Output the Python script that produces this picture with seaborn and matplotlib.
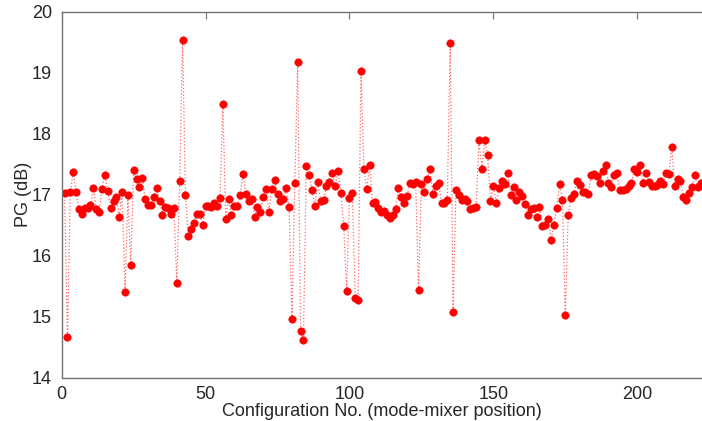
import matplotlib
matplotlib.use("Agg")
import matplotlib.pyplot as plt
import seaborn as sns
import numpy as np
import pandas as pd

config_no = list(range(1, 223))
pg_db = [
    17.03, 14.66, 17.04, 17.38, 17.04, 16.77, 16.69, 16.79, 16.78, 16.83,
    17.11, 16.76, 16.71, 17.10, 17.33, 17.06, 16.79, 16.90, 16.97, 16.63,
    17.04, 15.40, 16.99, 15.84, 17.40, 17.26, 17.13, 17.27, 16.93, 16.84,
    16.84, 16.97, 17.11, 16.89, 16.67, 16.80, 16.79, 16.68, 16.79, 15.55,
    17.23, 19.54, 17.00, 16.33, 16.44, 16.54, 16.69, 16.68, 16.50, 16.82,
    16.81, 16.80, 16.87, 16.82, 16.94, 18.49, 16.61, 16.93, 16.66, 16.81,
    16.81, 16.99, 17.34, 17.01, 16.89, 16.93, 16.64, 16.80, 16.72, 16.96,
    17.09, 16.72, 17.10, 17.25, 17.01, 16.90, 16.93, 17.11, 16.80, 14.97,
    17.20, 19.17, 14.77, 14.61, 17.47, 17.32, 17.07, 16.82, 17.21, 16.90,
    16.91, 17.15, 17.21, 17.36, 17.14, 17.39, 17.03, 16.49, 15.42, 16.95,
    17.03, 15.30, 15.27, 19.03, 17.42, 17.09, 17.48, 16.86, 16.88, 16.78,
    16.72, 16.73, 16.67, 16.62, 16.67, 16.77, 17.11, 16.96, 16.86, 16.98,
    17.19, 17.17, 17.21, 15.44, 17.17, 17.04, 17.26, 17.42, 17.01, 17.15,
    17.20, 16.86, 16.87, 16.91, 19.49, 15.07, 17.08, 16.99, 16.91, 16.93,
    16.89, 16.77, 16.78, 16.80, 17.89, 17.43, 17.90, 17.65, 16.89, 17.15,
    16.86, 17.11, 17.22, 17.18, 17.35, 16.99, 17.13, 16.92, 17.04, 16.98,
    16.85, 16.66, 16.77, 16.79, 16.64, 16.80, 16.48, 16.50, 16.61, 16.25,
    16.50, 16.79, 17.17, 16.92, 15.02, 16.67, 16.95, 17.02, 17.23, 17.16,
    17.04, 17.04, 17.01, 17.32, 17.34, 17.30, 17.20, 17.39, 17.48, 17.20,
    17.13, 17.33, 17.35, 17.07, 17.07, 17.10, 17.15, 17.19, 17.42, 17.38,
    17.48, 17.20, 17.35, 17.21, 17.15, 17.15, 17.16, 17.22, 17.17, 17.35,
    17.34, 17.79, 17.15, 17.26, 17.22, 16.97, 16.92, 17.03, 17.12, 17.33,
    17.12, 17.20,
]
x_ticks = [0, 50, 100, 150, 200]
y_ticks = [14, 15, 16, 17, 18, 19, 20]
x_label = "Configuration No. (mode-mixer position)"
y_label = "PG (dB)"

sns.set_style("white")
plt.rcParams["font.family"] = ["Liberation Sans", "DejaVu Sans"]

df = pd.DataFrame({"x": config_no, "y": pg_db})

fig = plt.figure(figsize=(7.02, 4.21), dpi=100)
ax = fig.add_axes([0.0879, 0.1029, 1.0 - 0.0879, 0.869])

# dotted connecting line (lighter), then the markers on top
sns.lineplot(data=df, x="x", y="y", ax=ax, color="red", linestyle=":",
             linewidth=0.9, alpha=0.6, errorbar=None)
sns.lineplot(data=df, x="x", y="y", ax=ax, color="red", linestyle="none",
             marker="o", markersize=5.3, markeredgecolor="red",
             markerfacecolor="red", markeredgewidth=0.5, errorbar=None)

ax.set_xlim(0, 222.5)
ax.set_ylim(14, 20)
ax.set_xticks(x_ticks)
ax.set_yticks(y_ticks)
ax.set_xlabel(x_label, fontsize=13, labelpad=0)
ax.set_ylabel(y_label, fontsize=13, labelpad=0)
ax.tick_params(axis="both", direction="in", top=True, right=False, length=5,
               labelsize=13, color="0.45")
ax.tick_params(axis="x", pad=6)
ax.tick_params(axis="y", pad=7)
for side in ["left", "top", "bottom"]:
    ax.spines[side].set_color("0.45")
    ax.spines[side].set_linewidth(1.0)
ax.spines["right"].set_visible(False)

fig.savefig("out.png", dpi=100)
